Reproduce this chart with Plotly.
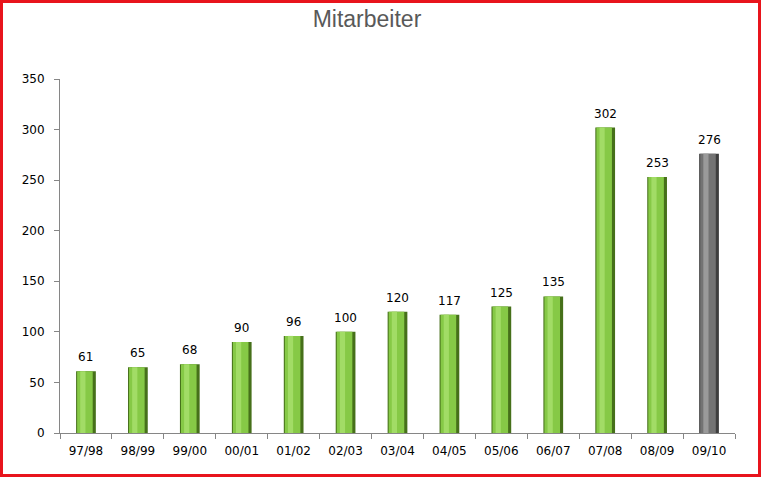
import plotly.graph_objects as go

categories = ["97/98", "98/99", "99/00", "00/01", "01/02", "02/03", "03/04",
              "04/05", "05/06", "06/07", "07/08", "08/09", "09/10"]
values = [61, 65, 68, 90, 96, 100, 120, 117, 125, 135, 302, 253, 276]
title_text = "Mitarbeiter"

dark = ["#46701a"] * 12 + ["#3e3e3e"]
mid = ["#86c946"] * 12 + ["#737373"]
light = ["#a2dc66"] * 12 + ["#9a9a9a"]

W, H = 761, 477
L, R, T, B = 60, 26, 79, 44

fig = go.Figure()
fig.add_trace(go.Bar(x=categories, y=values, width=0.38, marker=dict(color=dark, line=dict(width=0)),
                     hoverinfo="x+y"))
fig.add_trace(go.Bar(x=categories, y=values, width=0.30, offset=-0.17,
                     marker=dict(color=mid, line=dict(width=0)), hoverinfo="skip"))
fig.add_trace(go.Bar(x=categories, y=values, width=0.10, offset=-0.11,
                     marker=dict(color=light, line=dict(width=0)), hoverinfo="skip"))

for c, v in zip(categories, values):
    fig.add_annotation(x=c, y=v, text=str(v), showarrow=False, yanchor="bottom", yshift=5,
                       font=dict(family="DejaVu Sans", size=12, color="#000000"))

pw = W - L - R
ph = H - T - B
fig.add_shape(type="rect", xref="paper", yref="paper",
              x0=(1.5 - L) / pw, x1=(W - 1.5 - L) / pw,
              y0=-(B - 1.5) / ph, y1=1 + (T - 1.5) / ph,
              line=dict(color="#e8141c", width=3), fillcolor="rgba(0,0,0,0)", layer="above")

fig.update_layout(
    width=W, height=H,
    margin=dict(l=L, r=R, t=T, b=B),
    paper_bgcolor="#ffffff", plot_bgcolor="#ffffff",
    barmode="overlay", showlegend=False,
    title=dict(text=title_text, x=367 / W, xref="container", xanchor="center",
               y=1 - 19 / H, yref="container", yanchor="middle",
               font=dict(family="Liberation Sans", size=23, color="#595959")),
    font=dict(family="DejaVu Sans", size=12, color="#000000"),
    xaxis=dict(type="category", showline=True, linecolor="#868686", linewidth=1,
               ticks="outside", tickson="boundaries", ticklen=5, tickcolor="#868686",
               ticklabelstandoff=7,
               showgrid=False, tickfont=dict(family="DejaVu Sans", size=12, color="#000000")),
    yaxis=dict(range=[0, 350], dtick=50, showline=True, linecolor="#868686", linewidth=1,
               ticks="outside", ticklen=5, tickcolor="#868686", showgrid=False, zeroline=False,
               ticklabelstandoff=7,
               tickfont=dict(family="DejaVu Sans", size=12, color="#000000")),
)

fig.write_html("out.html", config={"displayModeBar": False},
               post_script="document.body.style.margin='0';document.body.style.padding='0';")
